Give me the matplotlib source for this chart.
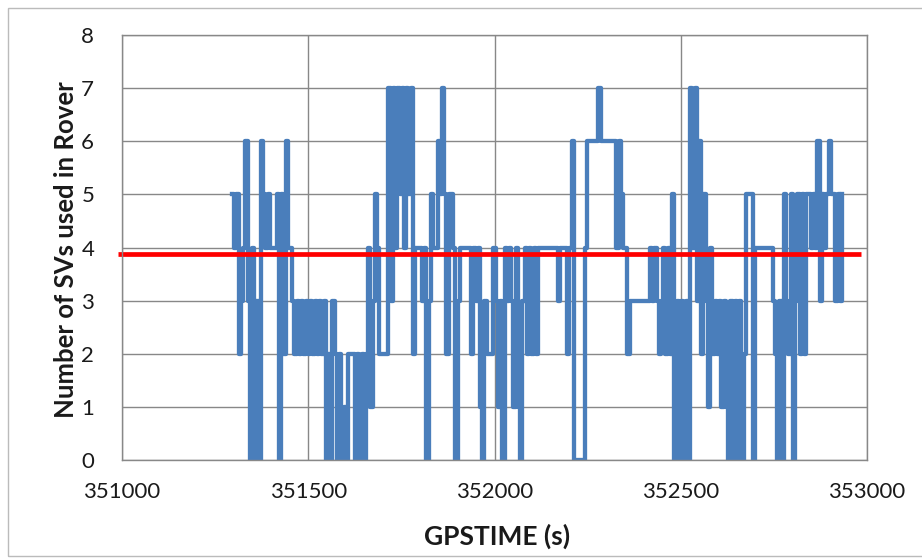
# ------------------------------
# 1. Import libraries
# ------------------------------
import numpy as np
import matplotlib
matplotlib.use("Agg")
import matplotlib.pyplot as plt
from matplotlib.patches import Rectangle

# ------------------------------
# 2. Rover satellite counts (one value every 6 s)
# ------------------------------
start_time = 351295      # GPSTIME of first epoch (s)
epoch_step = 6           # seconds between epochs

svs_part1 = [5, 4, 5, 2, 3, 4, 6, 3, 0, 4, 0, 3, 0, 6, 5, 4, 5, 4, 4, 4,
             5, 0, 5, 2, 6, 4, 4, 3, 2, 3, 2, 3, 2, 3, 2, 3, 2, 3, 2, 3, 2]
svs_part2 = [3, 0, 2, 0, 3, 2, 0, 2, 0, 1, 0, 2, 2, 2, 0, 2, 0, 2, 0, 2,
             4, 1, 3, 5, 4, 2, 2, 2, 2, 7, 3, 7, 4, 7, 5, 7, 4, 7, 5, 7,
             2, 4, 4, 4, 3, 4, 0, 3, 5, 4, 4, 6, 5, 7, 5, 2, 5, 5, 4, 0]
svs_part3 = [3, 4, 4, 4, 4, 4, 2, 4, 3, 4, 1, 0, 3, 2, 2, 2, 4, 3, 1, 3,
             0, 4, 3, 4, 3, 1, 4, 1, 0, 3, 4, 2, 4, 2, 4, 2, 4, 4, 4, 4,
             4, 4, 4, 4, 4, 3, 4, 4, 4, 2, 4, 6, 0, 0, 0, 0, 0]
svs_part4 = [4, 6, 6, 6, 6, 6, 7, 6, 6, 6, 6, 6, 6, 6, 4, 6, 5, 4, 4, 2,
             3, 3, 3, 3, 3, 3, 3, 3, 3, 4, 3, 4, 3, 2, 3, 4, 2, 4, 2, 5,
             0, 3, 0, 3, 0, 3, 0]
svs_part5 = [7, 4, 7, 3, 6, 2, 5, 3, 1, 4, 2, 3, 2, 3, 1, 3, 1, 0, 3, 0,
             3, 0, 3, 0, 2, 5, 5, 5, 0, 4, 4, 4, 4, 4, 4, 4, 4, 3, 2, 0,
             3, 0, 5, 3, 2, 5, 0, 3, 5, 2, 5, 2, 5, 5, 4, 5, 4, 6, 3, 5,
             4, 5, 6, 5, 5, 3, 5, 3, 5]

threshold = 3.87         # red reference level
threshold_span = [350990, 352985]

sv_count = np.array(svs_part1 + svs_part2 + svs_part3 + svs_part4 + svs_part5)
gps_time = start_time + epoch_step * np.arange(len(sv_count))

# ------------------------------
# 3. Plot
# ------------------------------
plt.rcParams['font.family'] = ['Lato', 'DejaVu Sans']

fig = plt.figure(figsize=(9.22, 5.6), dpi=100)
ax = fig.add_axes([122 / 922, 100 / 560, 745 / 922, 425 / 560])

ax.step(gps_time, sv_count, where='post', color='#4A7EBB', linewidth=3.1)
ax.plot(threshold_span, [threshold, threshold], color='#FF0000',
        linewidth=3.4, clip_on=False, solid_capstyle='butt')

ax.set_xlim(351000, 353000)
ax.set_ylim(0, 8)
ax.set_xticks([351000, 351500, 352000, 352500, 353000])
ax.set_yticks(range(0, 9))

ax.grid(True, color='#888888', linewidth=1.0)
ax.set_axisbelow(True)
for side in ax.spines.values():
    side.set_color('#888888')
    side.set_linewidth(1.0)

ax.tick_params(axis='both', length=0, labelsize=16, colors='#1a1a1a')
ax.tick_params(axis='x', pad=16)
ax.tick_params(axis='y', pad=20)

fig.text(497 / 922, 1 - 536 / 560, 'GPSTIME (s)', ha='center', va='center',
         fontsize=19, fontweight='bold', color='#1a1a1a')
fig.text(66 / 922, 1 - 250 / 560, 'Number of SVs used in Rover', ha='center',
         va='center', rotation=90, fontsize=18.5, fontweight='bold', color='#1a1a1a')

# light frame around the chart
fig.patches.append(Rectangle((8 / 922, 4 / 560), 920 / 922, 548 / 560,
                             transform=fig.transFigure, fill=False,
                             edgecolor='#BBBBBB', linewidth=1.0))

plt.savefig('out.png', dpi=100)
